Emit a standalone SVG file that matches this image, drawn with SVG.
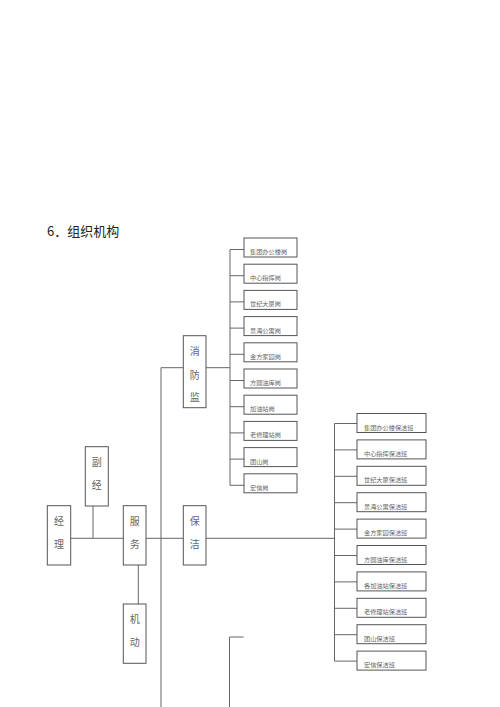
<svg xmlns="http://www.w3.org/2000/svg" width="500" height="707" viewBox="0 0 500 707">
<style>
.bx{fill:#fff;stroke:#555;stroke-width:1}
.ln{fill:none;stroke:#666;stroke-width:1}
.big{font-family:"Noto Sans CJK SC","Noto Sans CJK JP",sans-serif;font-size:10px;fill:#666;text-anchor:middle}
.sm{font-family:"Noto Sans CJK SC","Noto Sans CJK JP",sans-serif;font-size:6.2px;fill:#666}
.title{font-family:"Noto Sans CJK SC","Noto Sans CJK JP",sans-serif;font-size:13px;fill:#222}
</style>
<rect width="500" height="707" fill="#fff"/>
<text class="title" x="47" y="236">6．组织机构</text>
<g id="connectors">
<path class="ln" d="M70.7 538.3H123.3M93 506V538.3M146 538.3H183.3M206 538.3H334.5M138.3 565V604"/>
<path class="ln" d="M161 367.7V707M161 367.7H183.3M206 367.7H230"/>
<path class="ln" d="M230 249.5V485.3M230 249.5h14M230 275.7h14M230 301.9h14M230 328.1h14M230 354.3h14M230 380.5h14M230 406.7h14M230 432.9h14M230 459.1h14M230 485.3h14"/>
<path class="ln" d="M334.5 423.5V661.1M334.5 423.5h22.5M334.5 449.9h22.5M334.5 476.3h22.5M334.5 502.7h22.5M334.5 529.1h22.5M334.5 555.5h22.5M334.5 581.9h22.5M334.5 608.3h22.5M334.5 634.7h22.5M334.5 661.1h22.5"/>
<path class="ln" d="M229.5 707V637H243.7"/>
</g>
<g id="n-jingli"><rect class="bx" x="47.3" y="505.7" width="23.4" height="59.3"/><text class="big" x="59" y="524.5">经</text><text class="big" x="59" y="548">理</text></g>
<g id="n-fujing"><rect class="bx" x="85.3" y="446.7" width="23" height="59.3"/><text class="big" x="96.8" y="466">副</text><text class="big" x="96.8" y="489">经</text></g>
<g id="n-fuwu"><rect class="bx" x="123.3" y="505.7" width="22.7" height="59.3"/><text class="big" x="134.7" y="524.5">服</text><text class="big" x="134.7" y="548">务</text></g>
<g id="n-jidong"><rect class="bx" x="123.3" y="604" width="22.7" height="59.3"/><text class="big" x="134.7" y="623">机</text><text class="big" x="134.7" y="646">动</text></g>
<g id="n-baojie"><rect class="bx" x="183.3" y="505.7" width="22.7" height="59.3"/><text class="big" x="194.7" y="524.5">保</text><text class="big" x="194.7" y="548">洁</text></g>
<g id="n-xiaofang"><rect class="bx" x="183.3" y="335.7" width="22.7" height="72"/><text class="big" x="194.7" y="354.5">消</text><text class="big" x="194.7" y="379">防</text><text class="big" x="194.7" y="401">监</text></g>
<g id="xf-posts">
<g id="xf1"><rect class="bx" x="244" y="238" width="53" height="19"/><text class="sm" x="250" y="254">集团办公楼岗</text></g>
<g id="xf2"><rect class="bx" x="244" y="264.2" width="53" height="19"/><text class="sm" x="250" y="280.2">中心指挥岗</text></g>
<g id="xf3"><rect class="bx" x="244" y="290.4" width="53" height="19"/><text class="sm" x="250" y="306.4">世纪大厦岗</text></g>
<g id="xf4"><rect class="bx" x="244" y="316.6" width="53" height="19"/><text class="sm" x="250" y="332.6">景海公寓岗</text></g>
<g id="xf5"><rect class="bx" x="244" y="342.8" width="53" height="19"/><text class="sm" x="250" y="358.8">金方家园岗</text></g>
<g id="xf6"><rect class="bx" x="244" y="369" width="53" height="19"/><text class="sm" x="250" y="385">方圆油库岗</text></g>
<g id="xf7"><rect class="bx" x="244" y="395.2" width="53" height="19"/><text class="sm" x="250" y="411.2">加油站岗</text></g>
<g id="xf8"><rect class="bx" x="244" y="421.4" width="53" height="19"/><text class="sm" x="250" y="437.4">老修理站岗</text></g>
<g id="xf9"><rect class="bx" x="244" y="447.6" width="53" height="19"/><text class="sm" x="250" y="463.6">团山岗</text></g>
<g id="xf10"><rect class="bx" x="244" y="473.8" width="53" height="19"/><text class="sm" x="250" y="489.8">宏信岗</text></g>
</g>
<g id="bj-posts">
<g id="bj1"><rect class="bx" x="357" y="413.5" width="69" height="19"/><text class="sm" x="364" y="429.5">集团办公楼保洁班</text></g>
<g id="bj2"><rect class="bx" x="357" y="439.9" width="69" height="19"/><text class="sm" x="364" y="455.9">中心指挥保洁班</text></g>
<g id="bj3"><rect class="bx" x="357" y="466.3" width="69" height="19"/><text class="sm" x="364" y="482.3">世纪大厦保洁班</text></g>
<g id="bj4"><rect class="bx" x="357" y="492.7" width="69" height="19"/><text class="sm" x="364" y="508.7">景海公寓保洁班</text></g>
<g id="bj5"><rect class="bx" x="357" y="519.1" width="69" height="19"/><text class="sm" x="364" y="535.1">金方家园保洁班</text></g>
<g id="bj6"><rect class="bx" x="357" y="545.5" width="69" height="19"/><text class="sm" x="364" y="561.5">方圆油库保洁班</text></g>
<g id="bj7"><rect class="bx" x="357" y="571.9" width="69" height="19"/><text class="sm" x="364" y="587.9">各加油站保洁班</text></g>
<g id="bj8"><rect class="bx" x="357" y="598.3" width="69" height="19"/><text class="sm" x="364" y="614.3">老修理站保洁班</text></g>
<g id="bj9"><rect class="bx" x="357" y="624.7" width="69" height="19"/><text class="sm" x="364" y="640.7">团山保洁班</text></g>
<g id="bj10"><rect class="bx" x="357" y="651.1" width="69" height="19"/><text class="sm" x="364" y="667.1">宏信保洁班</text></g>
</g>
</svg>
